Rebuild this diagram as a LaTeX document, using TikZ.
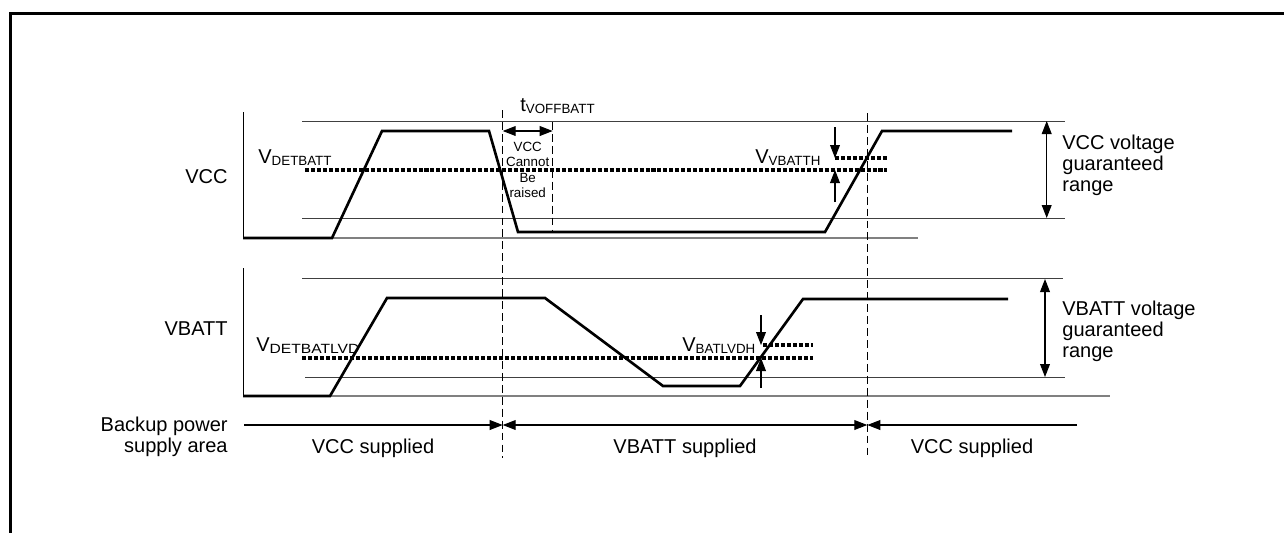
\documentclass[tikz,border=0pt]{standalone}
\usepackage{fontspec}
\setmainfont{Liberation Sans}
\usetikzlibrary{arrows.meta}
\newcommand{\vlab}[2]{#1\raisebox{-1.3pt}{\fontsize{7.6}{8}\selectfont #2}}

\begin{document}
\begin{tikzpicture}[x=0.02cm, y=-0.02cm,
  every node/.style={font=\fontsize{11.4}{12}\selectfont, inner sep=0pt},
  wave/.style={line width=1.5pt},
  limit/.style={line width=0.5pt, black!75},
  level/.style={line width=1.8pt, dash pattern=on 2.3pt off 1.1pt},
  cut/.style={line width=0.9pt, dash pattern=on 4.5pt off 2.3pt},
  tip/.style={line width=0.6pt, -{Triangle[length=7.4pt,width=5.6pt]}},
  tips/.style={line width=0.6pt, {Triangle[length=7.4pt,width=5.6pt]}-{Triangle[length=7.4pt,width=5.6pt]}}]
  \useasboundingbox (0,0) rectangle (1284,532);
  \clip (0,0) rectangle (1284,532);
  \draw[line width=1.7pt] (10.5,560) -- (10.5,13.5) -- (1300,13.5);

  \coordinate (off) at (502.7,0);
  \coordinate (hold) at (552.7,0);
  \coordinate (on) at (867.3,0);

  \node[anchor=base east] (vcclab) at (228,183) {VCC};
  \draw[line width=0.5pt] (243,112) -- (243,238);
  \draw[gray, line width=0.9pt] (243,238) -- (918,238);
  \draw[limit] (302,121) -- (1065,121);
  \draw[limit] (302,218) -- (1065,218);
  \draw[level] (305,170) -- (887,170);
  \draw[level] (835,158) -- (887,158);
  \draw[wave] (243,238) -- (332,238) -- (382,131) -- (489,131) -- (518,232)
    -- (825,232) -- (882,131) -- (1012,131);
  \node[anchor=base west] (vdet) at (258,163) {\vlab{V}{DETBATT}};
  \node[anchor=base west] (vvbatth) at (755,163) {\vlab{V}{VBATTH}};
  \draw[tip] (835,127) -- (835,158);
  \draw[tip] (835,202) -- (835,170);
  \node[anchor=base west] (toff) at (520,111.7) {\vlab{t}{VOFFBATT}};
  \draw[tips] (off |- 0,131) -- (hold |- 0,131);
  \node[align=center, font=\fontsize{7.6}{8.8}\selectfont] (nocc) at (527.7,170) {VCC\\Cannot\\Be\\raised};
  \draw[tips] (1046.7,121) -- (1046.7,218);
  \node[align=left, anchor=west] (vccrange) at (1062,165) {VCC voltage\\guaranteed\\range};

  \node[anchor=base east] (vbattlab) at (228,335) {VBATT};
  \draw[line width=0.5pt] (243,268) -- (243,396);
  \draw[gray, line width=0.6pt] (243,396) -- (1110,396);
  \draw[limit] (302,278) -- (1063,278);
  \draw[limit] (305,377) -- (1065,377);
  \draw[level] (302,358) -- (813,358);
  \draw[level] (763,345) -- (813,345);
  \draw[wave] (243,396) -- (330,396) -- (387,298) -- (545,298) -- (663,386)
    -- (740,386) -- (803,299) -- (1008,299);
  \node[anchor=base west] (vdetlvd) at (256,351) {V\raisebox{-1.3pt}{\scalebox{1.17}[1]{\fontsize{7.6}{8}\selectfont DETBATLVD}}};
  \node[anchor=base west] (vbatlvdh) at (682,351) {\vlab{V}{BATLVDH}};
  \draw[tip] (761,315) -- (761,345);
  \draw[tip] (761,388) -- (761,358);
  \draw[tips] (1045,279) -- (1045,377);
  \node[align=left, anchor=west] (vbrange) at (1062,331) {VBATT voltage\\guaranteed\\range};

  \draw[cut] (off |- 0,110) -- (off |- 0,458);
  \draw[cut] (hold |- 0,122) -- (hold |- 0,232);
  \draw[cut] (on |- 0,113) -- (on |- 0,458);

  \node[align=right, anchor=east] (bkup) at (228,437) {Backup power\\supply area};
  \draw[tip] (244,425) -- (off |- 0,425);
  \draw[tips] (off |- 0,425) -- (on |- 0,425);
  \draw[tip] (1077,425) -- (on |- 0,425);
  \node[anchor=base] (sup1) at (373,453) {VCC supplied};
  \node[anchor=base] (sup2) at (685,453) {VBATT supplied};
  \node[anchor=base] (sup3) at (972,453) {VCC supplied};
\end{tikzpicture}
\end{document}
